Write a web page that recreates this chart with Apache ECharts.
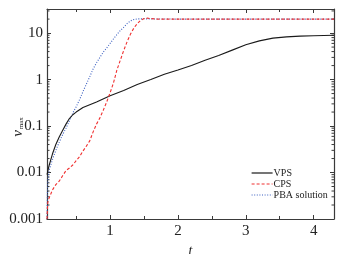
<!DOCTYPE html>
<html>
<head>
<meta charset="utf-8">
<script src="https://cdn.jsdelivr.net/npm/echarts@6/dist/echarts.min.js"></script>
<style>
  html, body { margin: 0; padding: 0; background: #fff; }
  #chart { width: 355px; height: 254px; }
</style>
</head>
<body>
<div id="chart"></div>
<script>
const tMin = 0.07;
const tMax = 4.3;
const vMin = 0.001;
const vMax = 33;

const yTickValues = [0.001, 0.01, 0.1, 1, 10];
const yTickLabels = ["0.001", "0.01", "0.1", "1", "10"];
const xTickLabels = ["1", "2", "3", "4"];

// VPS (black solid)
const vpsT = [0.07, 0.1, 0.15, 0.2, 0.25, 0.3, 0.35, 0.4, 0.45, 0.5, 0.6, 0.8, 1.0, 1.2, 1.4, 1.6, 1.8, 2.0, 2.2, 2.4, 2.6, 2.8, 3.0, 3.2, 3.4, 3.6, 3.8, 4.0, 4.3];
const vpsV = [0.009, 0.014, 0.025, 0.04, 0.058, 0.08, 0.11, 0.145, 0.175, 0.2, 0.25, 0.33, 0.45, 0.58, 0.78, 1.0, 1.3, 1.6, 2.0, 2.6, 3.3, 4.3, 5.6, 6.8, 7.8, 8.3, 8.6, 8.8, 9.0];

// CPS (red dashed)
const cpsT = [0.07, 0.08, 0.1, 0.15, 0.2, 0.25, 0.3, 0.35, 0.4, 0.45, 0.5, 0.55, 0.6, 0.65, 0.7, 0.75, 0.8, 0.85, 0.9, 0.95, 1.0, 1.05, 1.1, 1.15, 1.2, 1.25, 1.3, 1.35, 1.4, 1.45, 1.5, 1.55, 1.6, 1.7, 2.0, 3.0, 4.3];
const cpsV = [0.001, 0.0022, 0.0028, 0.0042, 0.0055, 0.0065, 0.0085, 0.011, 0.0125, 0.0145, 0.018, 0.022, 0.029, 0.037, 0.048, 0.075, 0.11, 0.15, 0.22, 0.33, 0.52, 0.85, 1.6, 2.6, 4.2, 6.5, 9.5, 12.8, 16, 18.8, 20.5, 21, 20.5, 20, 20, 20, 20];

// PBA solution (blue dotted)
const pbaT = [0.07, 0.075, 0.08, 0.09, 0.1, 0.15, 0.2, 0.25, 0.3, 0.35, 0.4, 0.45, 0.5, 0.55, 0.6, 0.65, 0.7, 0.75, 0.8, 0.85, 0.9, 0.95, 1.0, 1.05, 1.1, 1.15, 1.2, 1.25, 1.3, 1.35, 1.4, 1.5, 1.6, 2.0, 3.0, 4.3];
const pbaV = [0.001, 0.003, 0.006, 0.0085, 0.011, 0.019, 0.03, 0.045, 0.065, 0.09, 0.13, 0.19, 0.26, 0.37, 0.55, 0.8, 1.15, 1.7, 2.3, 3.0, 3.9, 4.8, 6.0, 7.5, 9.3, 11.3, 13.3, 16, 18.3, 19.6, 20.2, 20.3, 20.2, 20, 20, 20];

const minorY = [];
yTickValues.forEach((d) => {
  for (let k = 2; k <= 9; k++) {
    if (d * k < vMax) minorY.push(d * k);
  }
});

const zip = (a, b) => a.map((x, i) => [x, b[i]]);

const axisColor = "#3a3a3a";
const serif = "Liberation Serif";

const chart = echarts.init(document.getElementById("chart"), null, { renderer: "canvas" });

const yLabel = (v) => {
  const i = yTickValues.findIndex((d) => Math.abs(Math.log10(v) - Math.log10(d)) < 0.01);
  return i >= 0 ? yTickLabels[i] : "";
};
const xLabel = (v) => {
  const i = xTickLabels.indexOf(String(Math.round(v)));
  return Math.abs(v - Math.round(v)) < 1e-6 && i >= 0 ? xTickLabels[i] : "";
};

const xBase = {
  type: "value",
  min: tMin,
  max: tMax,
  axisLine: { show: true, onZero: false, lineStyle: { color: axisColor, width: 1.2 } },
  axisTick: { inside: true, length: 4, lineStyle: { color: axisColor } },
  minorTick: { show: true, splitNumber: 2, length: 3, lineStyle: { color: axisColor } },
  splitLine: { show: false },
};
const yBase = {
  type: "log",
  logBase: 10,
  min: vMin,
  max: vMax,
  axisLine: { show: true, onZero: false, lineStyle: { color: axisColor, width: 1.2 } },
  axisTick: { inside: true, length: 4, lineStyle: { color: axisColor } },
  splitLine: { show: false },
};

const option = {
  animation: false,
  grid: { left: 47, right: 21, top: 9, bottom: 35, containLabel: false, outerBoundsMode: "none" },
  xAxis: [
    Object.assign({}, xBase, {
      position: "bottom",
      name: "t",
      nameLocation: "middle",
      nameGap: 21,
      nameTextStyle: { fontFamily: serif, fontStyle: "italic", fontSize: 14, color: "#222" },
      axisLabel: { formatter: xLabel, fontFamily: serif, fontSize: 15, color: "#222", margin: 5 },
    }),
    Object.assign({}, xBase, { position: "top", axisLabel: { show: false } }),
  ],
  yAxis: [
    Object.assign({}, yBase, {
      position: "left",
      axisLabel: { formatter: yLabel, fontFamily: serif, fontSize: 15, color: "#222", margin: 4 },
    }),
    Object.assign({}, yBase, { position: "right", axisLabel: { show: false } }),
  ],
  graphic: [
    {
      type: "text",
      x: 18,
      y: 127,
      rotation: Math.PI / 2,
      style: {
        text: "{v|v}{s|max}",
        rich: {
          v: { fontFamily: serif, fontStyle: "italic", fontSize: 15, fill: "#222" },
          s: { fontFamily: serif, fontSize: 7, fill: "#222", padding: [7, 0, 0, 1] },
        },
        align: "center",
        verticalAlign: "middle",
      },
    },
  ],
  legend: {
    orient: "vertical",
    left: 246,
    top: 163,
    itemWidth: 21,
    itemHeight: 8,
    itemGap: 1,
    itemStyle: { opacity: 0 },
    lineStyle: { width: 1.2 },
    textStyle: { fontFamily: serif, fontSize: 10, color: "#222", padding: [0, 0, 0, -4] },
    data: ["VPS", "CPS", "PBA solution"],
  },
  series: [
    {
      name: "PBA solution",
      type: "line",
      data: zip(pbaT, pbaV),
      showSymbol: false,
      symbol: "none",
      lineStyle: { color: "#3b5fc0", width: 1.1, type: [1, 1.6] },
      itemStyle: { color: "#3b5fc0" },
    },
    {
      name: "VPS",
      type: "line",
      data: zip(vpsT, vpsV),
      showSymbol: false,
      symbol: "none",
      lineStyle: { color: "#1a1a1a", width: 1.1 },
      itemStyle: { color: "#1a1a1a" },
    },
    {
      name: "CPS",
      type: "line",
      data: zip(cpsT, cpsV),
      showSymbol: false,
      symbol: "none",
      lineStyle: { color: "#f03030", width: 1.1, type: [3, 2] },
      itemStyle: { color: "#f03030" },
    },
    {
      name: "minorTicks",
      type: "custom",
      silent: true,
      clip: false,
      data: minorY.map((v) => [tMin, v]),
      encode: { x: 0, y: 1 },
      renderItem: (params, api) => {
        const v = api.value(1);
        const l = api.coord([tMin, v]);
        const r = api.coord([tMax, v]);
        const style = { stroke: axisColor, lineWidth: 1 };
        return {
          type: "group",
          children: [
            { type: "line", shape: { x1: l[0], y1: l[1], x2: l[0] + 2.5, y2: l[1] }, style },
            { type: "line", shape: { x1: r[0], y1: r[1], x2: r[0] - 2.5, y2: r[1] }, style },
          ],
        };
      },
    },
  ],
};

chart.setOption(option);
</script>
</body>
</html>
